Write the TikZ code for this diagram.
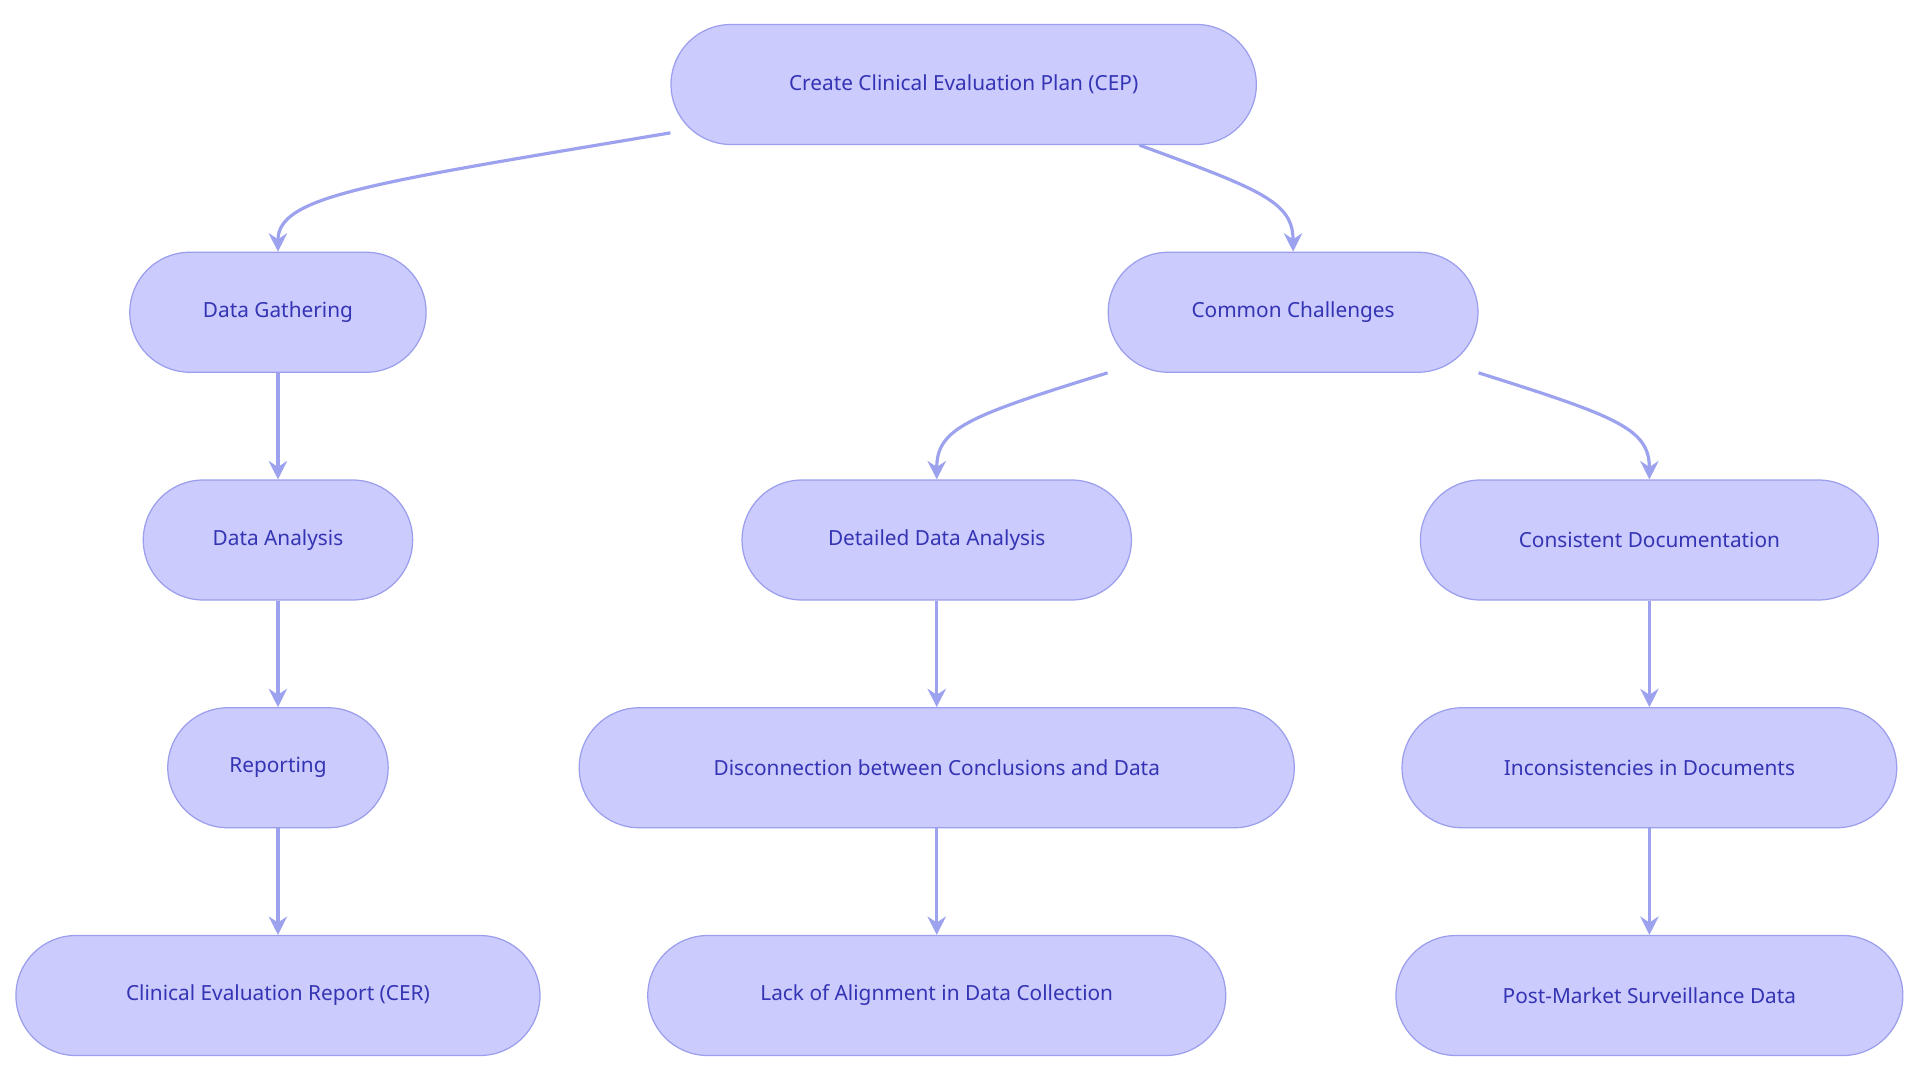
\documentclass[tikz,border=0pt]{standalone}
\usepackage{fontspec}
\setmainfont{Noto Sans}
\usetikzlibrary{arrows.meta}
\definecolor{boxfill}{HTML}{CBCBFD}
\definecolor{boxline}{HTML}{9B9EEC}
\definecolor{boxtext}{HTML}{3434B4}
\definecolor{arrowc}{HTML}{9DA2EE}
\tikzset{
	stage/.style={draw=boxline, fill=boxfill, text=boxtext, rounded corners=49pt, minimum height=98pt, line width=1pt, font=\fontsize{17}{20}\selectfont, inner sep=0pt},
	flow/.style={draw=arrowc, line width=2.6pt, -{Stealth[length=15pt,width=15pt]}}
}
\begin{document}
\begin{tikzpicture}[x=1pt, y=-1pt]
	\useasboundingbox (0,0) rectangle (1568,882);
	\draw node[stage, minimum width=478pt] at (787, 69) (cep) {Create Clinical Evaluation Plan (CEP)};
	\draw node[stage, minimum width=242pt] at (227, 255) (gather) {Data Gathering};
	\draw node[stage, minimum width=302pt] at (1056, 255) (challenges) {Common Challenges};
	\draw node[stage, minimum width=220pt] at (227, 441) (analysis) {Data Analysis};
	\draw node[stage, minimum width=318pt] at (765, 441) (detailed) {Detailed Data Analysis};
	\draw node[stage, minimum width=374pt] at (1347, 441) (consistent) {Consistent Documentation};
	\draw node[stage, minimum width=180pt] at (227, 627) (report) {Reporting};
	\draw node[stage, minimum width=584pt] at (765, 627) (disconnect) {Disconnection between Conclusions and Data};
	\draw node[stage, minimum width=404pt] at (1347, 627) (inconsist) {Inconsistencies in Documents};
	\draw node[stage, minimum width=428pt] at (227, 813) (cer) {Clinical Evaluation Report (CER)};
	\draw node[stage, minimum width=472pt] at (765, 813) (lack) {Lack of Alignment in Data Collection};
	\draw node[stage, minimum width=414pt] at (1347, 813) (pms) {Post-Market Surveillance Data};

	\draw [flow] ([yshift=10pt]cep.south west) .. controls (300, 150) and (227, 160) .. (gather.north);
	\draw [flow] ([xshift=-96pt]cep.south east) .. controls (1030, 155) and (1056, 165) .. (challenges.north);
	\draw [flow] (challenges.south west) .. controls (790, 340) and (765, 350) .. (detailed.north);
	\draw [flow] (challenges.south east) .. controls (1320, 340) and (1347, 350) .. (consistent.north);

	\draw [flow] (gather) -- (analysis);
	\draw [flow] (analysis) -- (report);
	\draw [flow] (report) -- (cer);
	\draw [flow] (detailed) -- (disconnect);
	\draw [flow] (disconnect) -- (lack);
	\draw [flow] (consistent) -- (inconsist);
	\draw [flow] (inconsist) -- (pms);
\end{tikzpicture}
\end{document}
